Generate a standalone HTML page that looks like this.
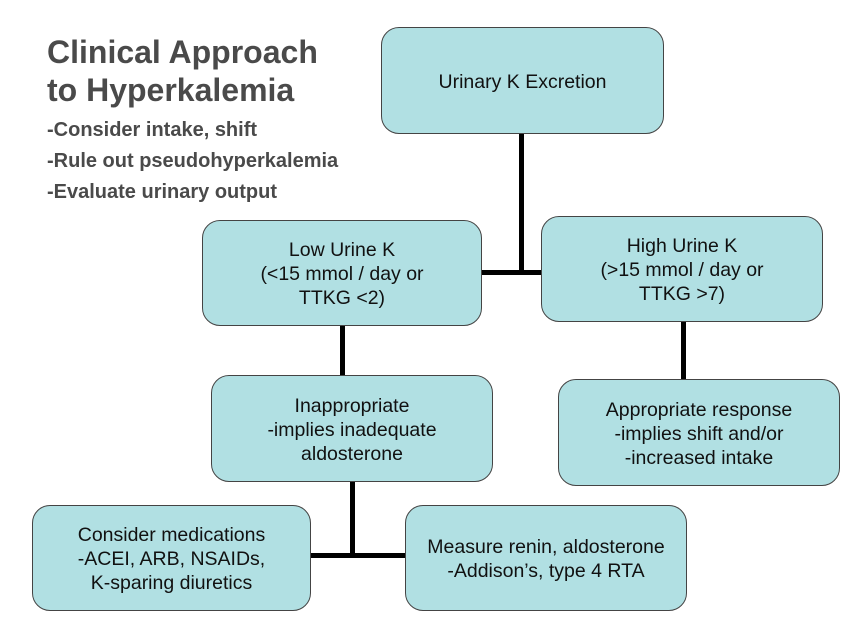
<!DOCTYPE html>
<html><head><style>
body{margin:0;width:868px;height:640px;background:#fff;position:relative;font-family:"Liberation Sans",Arial,sans-serif;overflow:hidden}
.t{position:absolute;left:47px;color:#4a4a4a;font-weight:bold}
.b{position:absolute;box-sizing:border-box;background:#b1e0e3;border:1.5px solid #444;border-radius:18px;display:flex;align-items:center;justify-content:center;text-align:center;font-size:19.5px;line-height:24px;color:#111}
.l{position:absolute;background:#000}
</style></head><body>
<div class="t" style="top:33px;font-size:32px;line-height:38px">Clinical Approach<br>to Hyperkalemia</div>
<div class="t" style="top:115px;font-size:20px;line-height:31px">-Consider intake, shift<br>-Rule out pseudohyperkalemia<br>-Evaluate urinary output</div>
<div class="l" style="left:519px;top:133px;width:5px;height:142px"></div>
<div class="l" style="left:480px;top:270px;width:62px;height:5px"></div>
<div class="l" style="left:340px;top:324px;width:5px;height:52px"></div>
<div class="l" style="left:681px;top:320px;width:5px;height:60px"></div>
<div class="l" style="left:350px;top:480px;width:5px;height:78px"></div>
<div class="l" style="left:309px;top:553px;width:97px;height:5px"></div>
<div class="b" style="left:381px;top:27px;width:283px;height:107px;padding-top:2px">Urinary K Excretion</div>
<div class="b" style="left:202px;top:220px;width:280px;height:106px;padding-top:2px">Low Urine K<br>(&lt;15 mmol / day or<br>TTKG &lt;2)</div>
<div class="b" style="left:541px;top:216px;width:282px;height:106px;padding-top:2px">High Urine K<br>(&gt;15 mmol / day or<br>TTKG &gt;7)</div>
<div class="b" style="left:211px;top:375px;width:282px;height:107px;padding-top:2px">Inappropriate<br>-implies inadequate<br>aldosterone</div>
<div class="b" style="left:558px;top:379px;width:282px;height:107px;padding-top:2px">Appropriate response<br>-implies shift and/or<br>-increased intake</div>
<div class="b" style="left:32px;top:505px;width:279px;height:106px;padding-top:2px">Consider medications<br>-ACEI, ARB, NSAIDs,<br>K-sparing diuretics</div>
<div class="b" style="left:405px;top:505px;width:282px;height:106px;padding-top:2px">Measure renin, aldosterone<br>-Addison’s, type 4 RTA</div>
</body></html>
